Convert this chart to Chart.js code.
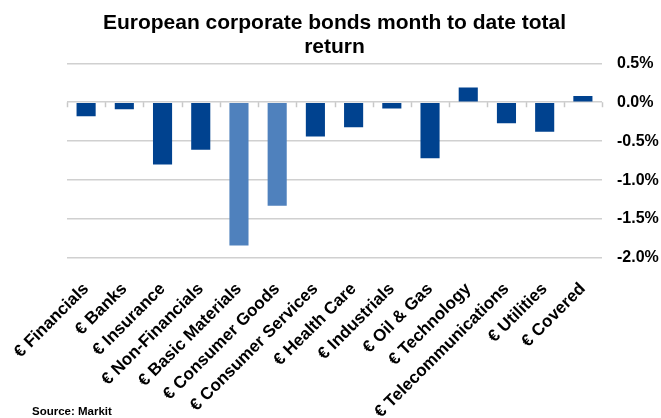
<!DOCTYPE html>
<html>
<head>
<meta charset="utf-8">
<script src="https://cdn.jsdelivr.net/npm/chart.js@4.4.0/dist/chart.umd.min.js"></script>
<style>
  html, body { margin: 0; padding: 0; background: #fff; }
  #wrap { position: relative; width: 661px; height: 418px; }
  #source {
    position: absolute; left: 32px; top: 405px;
    font: bold 11.5px "Liberation Sans", Arial, sans-serif; color: #000;
  }
</style>
</head>
<body>
<div id="wrap">
  <canvas id="grafico" width="661" height="418"></canvas>
  <div id="source">Source: Markit</div>
</div>
<script>
// Datos (retorno en %)
const sectores = [
  "€ Financials", "€ Banks", "€ Insurance", "€ Non-Financials",
  "€ Basic Materials", "€ Consumer Goods", "€ Consumer Services",
  "€ Health Care", "€ Industrials", "€ Oil & Gas", "€ Technology",
  "€ Telecommunications", "€ Utilities", "€ Covered"
];
const retornos = [
  -0.18, -0.09, -0.80, -0.61, -1.84, -1.33, -0.44,
  -0.32, -0.08, -0.72, 0.19, -0.27, -0.38, 0.08
];
const yTicks = [0.5, 0.0, -0.5, -1.0, -1.5, -2.0];

const fuente = '"Liberation Sans", Arial, sans-serif';
const azul = "#00428f";
const azulClaro = "#4f81bd";
const colores = sectores.map((s, i) => (i === 4 || i === 5 ? azulClaro : azul));

// Pequeñas marcas en la linea del cero entre categorias
const marcasCero = {
  id: "marcasCero",
  afterDatasetsDraw(chart) {
    const x = chart.scales.x;
    const y = chart.scales.y;
    const ctx = chart.ctx;
    const y0 = y.getPixelForValue(0);
    const paso = x.getPixelForValue(1) - x.getPixelForValue(0);
    ctx.save();
    ctx.strokeStyle = "#c8c8c8";
    ctx.lineWidth = 1.5;
    for (let i = 0; i <= sectores.length; i++) {
      const px = Math.round(x.getPixelForValue(i) - paso / 2) + 0.5;
      ctx.beginPath();
      ctx.moveTo(px, y0);
      ctx.lineTo(px, y0 + 5);
      ctx.stroke();
    }
    ctx.restore();
  },
};

new Chart(document.getElementById("grafico"), {
  type: "bar",
  data: {
    labels: sectores,
    datasets: [
      {
        data: retornos,
        backgroundColor: colores,
        borderWidth: 0,
        categoryPercentage: 1.0,
        barPercentage: 0.5,
      },
    ],
  },
  options: {
    responsive: false,
    animation: false,
    layout: { padding: { left: 67, right: 0, top: 0, bottom: 0 } },
    plugins: {
      legend: { display: false },
      tooltip: { enabled: false },
      title: {
        display: true,
        fullSize: false,
        text: ["European corporate bonds month to date total", "return"],
        color: "#000",
        font: { family: fuente, size: 21, weight: "bold", lineHeight: 1.15 },
        padding: { top: 11, bottom: 4 },
      },
    },
    scales: {
      x: {
        grid: { display: false },
        border: { display: false },
        ticks: {
          color: "#000",
          font: { family: fuente, size: 17, weight: "bold" },
          minRotation: 45,
          maxRotation: 45,
          autoSkip: false,
          padding: 13,
        },
        afterFit(scale) {
          scale.height = 160;
          scale.paddingLeft = 0;
          scale.paddingRight = 0;
        },
      },
      y: {
        position: "right",
        min: -2.0,
        max: 0.5,
        afterBuildTicks(scale) {
          scale.ticks = yTicks.map((v) => ({ value: v }));
        },
        grid: { color: "#d0d0d0", lineWidth: 1.5, drawTicks: false },
        border: { display: false },
        ticks: {
          color: "#000",
          font: { family: fuente, size: 16, weight: "bold" },
          padding: 15,
          callback: (v) => v.toFixed(1) + "%",
        },
        afterFit(scale) {
          scale.width = 59;
        },
      },
    },
  },
  plugins: [marcasCero],
});
</script>
</body>
</html>
